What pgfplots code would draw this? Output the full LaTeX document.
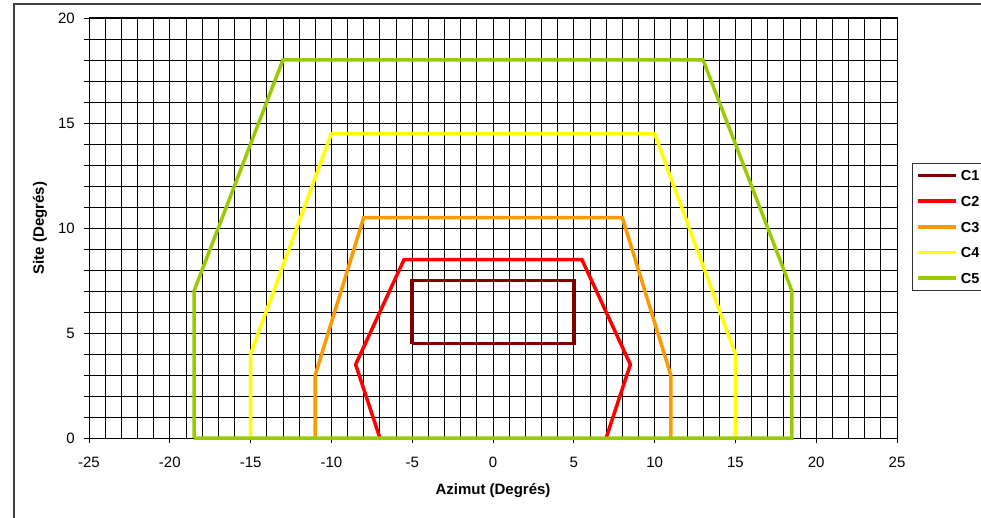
\documentclass[border=0pt]{standalone}
\usepackage{fontspec}
\setmainfont{Liberation Sans}
\usepackage{pgfplots}
\pgfplotsset{compat=1.18}
\definecolor{cA}{HTML}{800000}
\definecolor{cB}{HTML}{FF0000}
\definecolor{cC}{HTML}{FF9900}
\definecolor{cD}{HTML}{FFFF00}
\definecolor{cE}{HTML}{99CC00}
\begin{document}
\begin{tikzpicture}[x=1pt,y=1pt]
\useasboundingbox (0,0) rectangle (981,517);
\draw[line width=1.3pt, black!75] (14,-5) -- (14,513) -- (990,513);
\begin{axis}[
  at={(89pt,79pt)}, anchor=south west,
  width=808pt, height=420pt, scale only axis,
  xmin=-25, xmax=25, ymin=0, ymax=20,
  xtick={-25,-20,...,25},
  ytick={0,1,...,20},
  yticklabels={0,,,,,5,,,,,10,,,,,15,,,,,20},
  minor x tick num=4,
  minor tick length=0pt,
  major tick length=5pt,
  tick align=outside,
  xtick pos=bottom, ytick pos=left,
  grid=both,
  major grid style={black, line width=0.8pt},
  minor grid style={black, line width=0.8pt},
  axis line style={black, line width=1pt},
  tick style={black, line width=0.8pt},
  /pgf/number format/assume math mode=true,
  tick label style={font=\fontsize{15}{18}\selectfont, inner sep=0pt},
  yticklabel style={anchor=east, xshift=-9pt},
  xticklabel style={anchor=north, yshift=-14pt},
  xlabel={Azimut (Degrés)},
  ylabel={Site (Degrés)},
  label style={font=\bfseries\fontsize{15}{18}\selectfont},
  xlabel style={at={(axis description cs:0.5,-0.126)}, anchor=center},
  ylabel style={at={(axis description cs:-0.0606,0.5)}, anchor=center, rotate=0},
  clip=false,
  every axis plot/.append style={line width=3.5pt, line join=miter},
  legend style={at={(1.0186,0.6548)}, anchor=north west, draw=black!80, line width=0.8pt,
    font=\bfseries\fontsize{14.5}{17}\selectfont, inner xsep=4pt, inner ysep=7pt,
    row sep=15.1pt, column sep=3pt,
    nodes={inner sep=0pt, text height=10.5pt, text depth=0pt}},
  legend cell align=left,
  legend image code/.code={\draw[#1] (0pt,0pt) -- (38pt,0pt);},
]
\addplot[cA] coordinates {(-5,4.5) (5,4.5) (5,7.5) (-5,7.5) (-5,4.5)};
\addlegendentry{C1}
\addplot[cB] coordinates {(-7,0) (-8.5,3.5) (-5.5,8.5) (5.5,8.5) (8.5,3.5) (7,0)};
\addlegendentry{C2}
\addplot[cC] coordinates {(-11,0) (-11,3) (-8,10.5) (8,10.5) (11,3) (11,0)};
\addlegendentry{C3}
\addplot[cD] coordinates {(-15,0) (-15,4) (-10,14.5) (10,14.5) (15,4) (15,0)};
\addlegendentry{C4}
\addplot[cE] coordinates {(-18.5,0) (-18.5,7) (-13,18) (13,18) (18.5,7) (18.5,0) (-18.5,0)};
\addlegendentry{C5}
\end{axis}
\end{tikzpicture}
\end{document}
